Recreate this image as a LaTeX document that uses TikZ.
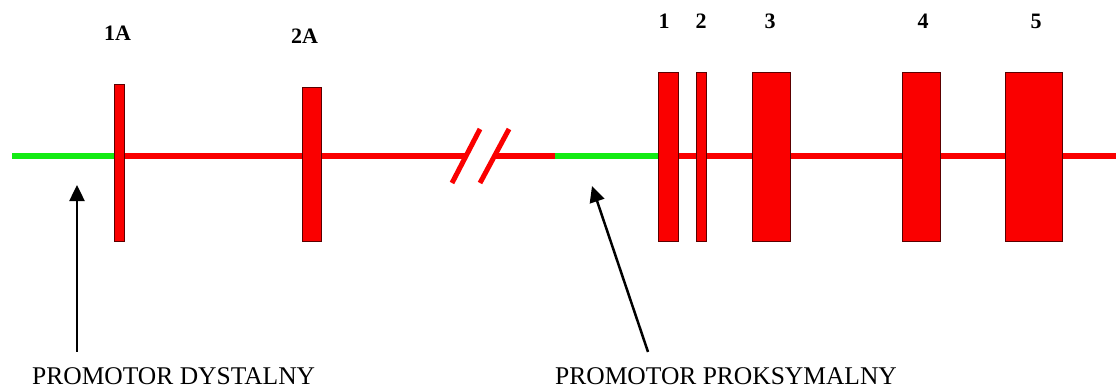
\documentclass[tikz,border=0pt]{standalone}
\usepackage{fontspec}
\setmainfont{Liberation Serif}
\usetikzlibrary{arrows.meta,fit,backgrounds}

\definecolor{genered}{RGB}{250,0,0}
\definecolor{promogreen}{RGB}{20,235,20}
\definecolor{exonedge}{RGB}{90,0,0}

\begin{document}
\begin{tikzpicture}[
    x=1pt, y=-1pt,
    >=Stealth,
    redline/.style={
        draw=genered,
        line width=6.5pt
    },
    greenline/.style={
        draw=promogreen,
        line width=6.5pt
    },
    slash/.style={
        draw=genered,
        line width=5pt
    },
    exon/.style={
        draw=exonedge,
        fill=genered,
        line width=0.7pt,
        inner sep=0pt
    },
    exonlabel/.style={
        font=\fontsize{22}{24}\selectfont\bfseries,
        inner sep=0pt
    },
    promolabel/.style={
        font=\fontsize{25.5}{28}\selectfont,
        inner sep=0pt,
        anchor=base west
    },
    ptr/.style={
        -{Triangle[width=15pt,length=16pt]},
        line width=2.5pt,
        draw=black
    }
]

% Canvas
\useasboundingbox (0,0) rectangle (1116,389);

% Exons with their numbers
\foreach \name/\xa/\xb/\ytop/\lx in {1A/114/124/84/117.5, 2A/302/321/87/304.5,
    1/658/678/72/664, 2/696/706/72/701, 3/752/790/72/770,
    4/902/940/72/923, 5/1005/1062/72/1036} {
    \node[exon, fit={(\xa,\ytop) (\xb,241)}] (ex\name) {};
    \node[exonlabel] (lab\name) at (\lx, \ytop-51) {\name};
}

% Gene axis
\coordinate (start) at (12,156);
\coordinate (brkL) at (466,156);
\coordinate (brkR) at (495,156);
\coordinate (proxStart) at (555,156);
\coordinate (end) at (1116,156);

\begin{scope}[on background layer]
    \draw[greenline] (start) -- (ex1A |- start);
    \draw[redline] (ex1A |- start) -- (brkL);
    \draw[redline] (brkR) -- (proxStart);
    \draw[greenline] (proxStart) -- (ex1 |- start);
    \draw[redline] (ex1 |- start) -- (end);
\end{scope}

% Break marks
\draw[slash] (452,183) -- (480,129);
\draw[slash] (480,183) -- (509,129);

% Promoter labels
\node[promolabel] (dyst) at (32,384) {PROMOTOR DYSTALNY};
\node[promolabel] (prox) at (555,384) {PROMOTOR PROKSYMALNY};

% Arrows
\coordinate (dystTip) at (77,185);
\coordinate (proxTip) at (592,186);
\draw[ptr] ([yshift=15pt]dyst.north -| dystTip) -- (dystTip);
\draw[ptr] ([xshift=93pt,yshift=15pt]prox.north west) -- (proxTip);

\end{tikzpicture}
\end{document}
